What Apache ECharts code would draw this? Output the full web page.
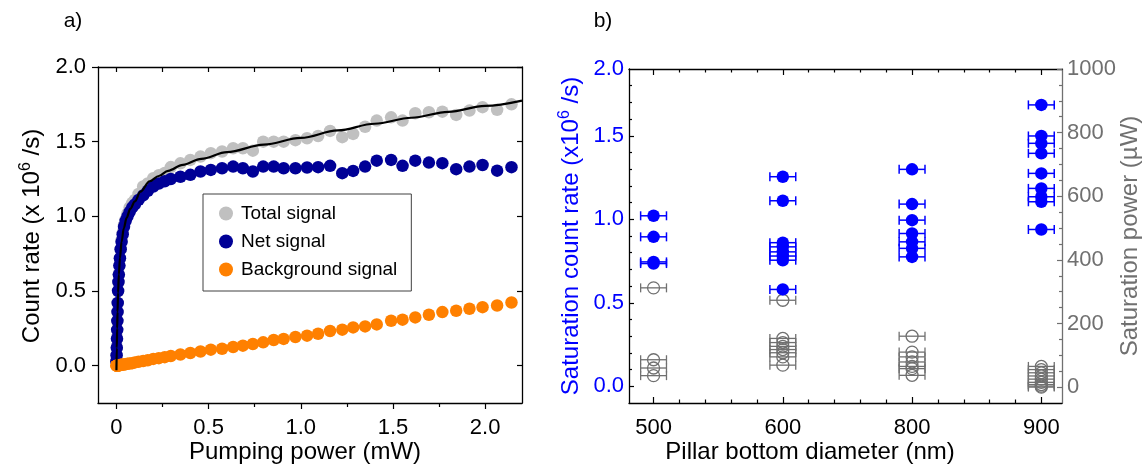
<!DOCTYPE html>
<html><head><meta charset="utf-8">
<script src="https://cdn.jsdelivr.net/npm/echarts@6/dist/echarts.min.js"></script>
<style>html,body{margin:0;padding:0;background:#fff}#c{width:1147px;height:464px}</style>
</head><body><div id="c"></div>
<script>
// ---------- Panel a) data ----------
const power = [0, 0.001, 0.002, 0.003, 0.004, 0.005, 0.006, 0.007, 0.009, 0.011, 0.013, 0.016, 0.019, 0.023, 0.028, 0.034, 0.041, 0.05, 0.06, 0.072, 0.086, 0.1, 0.12, 0.145, 0.17, 0.2, 0.23, 0.262, 0.295, 0.347, 0.401, 0.456, 0.512, 0.573, 0.633, 0.686, 0.74, 0.796, 0.853, 0.907, 0.971, 1.034, 1.094, 1.159, 1.225, 1.284, 1.349, 1.412, 1.49, 1.552, 1.621, 1.695, 1.768, 1.843, 1.915, 1.986, 2.065, 2.143];
const totalSignal = [0.03, 0.07, 0.12, 0.18, 0.24, 0.30, 0.36, 0.42, 0.50, 0.56, 0.61, 0.67, 0.72, 0.78, 0.84, 0.89, 0.94, 0.98, 1.02, 1.06, 1.09, 1.11, 1.15, 1.20, 1.22, 1.255, 1.275, 1.29, 1.33, 1.355, 1.378, 1.40, 1.423, 1.434, 1.456, 1.456, 1.44, 1.50, 1.50, 1.50, 1.51, 1.523, 1.538, 1.572, 1.53, 1.552, 1.60, 1.641, 1.663, 1.641, 1.69, 1.697, 1.701, 1.679, 1.708, 1.731, 1.713, 1.75];
const netSignal = [0.03, 0.07, 0.12, 0.18, 0.24, 0.30, 0.36, 0.42, 0.50, 0.56, 0.61, 0.67, 0.72, 0.78, 0.83, 0.88, 0.93, 0.97, 1.00, 1.03, 1.06, 1.08, 1.11, 1.14, 1.17, 1.20, 1.22, 1.235, 1.25, 1.265, 1.278, 1.30, 1.311, 1.322, 1.333, 1.322, 1.30, 1.333, 1.333, 1.322, 1.322, 1.327, 1.329, 1.338, 1.289, 1.304, 1.333, 1.373, 1.378, 1.338, 1.373, 1.36, 1.356, 1.316, 1.333, 1.344, 1.306, 1.329];
const backgroundSignal = [0, 0, 0, 0, 0, 0, 0, 0, 0.002, 0.002, 0.003, 0.003, 0.004, 0.005, 0.006, 0.007, 0.008, 0.01, 0.012, 0.014, 0.017, 0.022, 0.026, 0.031, 0.036, 0.045, 0.05, 0.057, 0.065, 0.075, 0.085, 0.095, 0.107, 0.113, 0.125, 0.134, 0.145, 0.156, 0.172, 0.179, 0.192, 0.201, 0.214, 0.232, 0.241, 0.256, 0.263, 0.276, 0.301, 0.308, 0.323, 0.341, 0.359, 0.368, 0.381, 0.392, 0.403, 0.423];
const fitPower = [0, 0.002, 0.004, 0.006, 0.009, 0.013, 0.019, 0.028, 0.04, 0.055, 0.075, 0.1, 0.13, 0.18, 0.23, 0.28, 0.36, 0.46, 0.6, 0.8, 1.0, 1.2, 1.4, 1.6, 1.8, 2.0, 2.2];
const fitCount = [-0.03, 0.12, 0.25, 0.36, 0.49, 0.61, 0.72, 0.83, 0.92, 0.99, 1.05, 1.10, 1.165, 1.235, 1.27, 1.305, 1.345, 1.385, 1.43, 1.48, 1.525, 1.575, 1.62, 1.66, 1.70, 1.74, 1.775];
const xTicksA = [0, 0.5, 1.0, 1.5, 2.0];
const yTicksA = [0, 0.5, 1.0, 1.5, 2.0];

// ---------- Panel b) data ----------
const diameters = ['500', '600', '800', '900'];
const rate500 = [1.021, 0.895, 0.745, 0.735];
const rate600 = [1.255, 1.111, 0.86, 0.835, 0.805, 0.78, 0.755, 0.58];
const rate800 = [1.299, 1.091, 0.995, 0.915, 0.865, 0.826, 0.775];
const rate900 = [1.685, 1.499, 1.455, 1.395, 1.275, 1.185, 1.135, 1.105, 0.939];
const psat500 = [312, 86, 60, 36];
const psat600 = [273, 153, 140, 128, 118, 108, 95, 69];
const psat800 = [160, 110, 95, 79, 65, 58, 37];
const psat900 = [65, 55, 45, 35, 25, 15, 8, 3, 0];
const diamErr = [0.1, 0.1, 0.1, 0.1]; // half width, in units of category spacing
const yTicksBLeft = [0, 0.5, 1.0, 1.5, 1.9];
const yTicksBRight = [0, 200, 400, 600, 800, 1000];

const FONT = 'Liberation Sans, Arial, Helvetica, sans-serif';
const BLUE = '#0000ff';
const GRAY = '#707070';
const TICKFS = 22;
const TITLEFS = 24;

function range(a, b, s) { const r = []; for (let v = a; v <= b + 1e-9; v += s) r.push(Math.round(v * 1000) / 1000); return r; }

const rateSets = [rate500, rate600, rate800, rate900];
const psatSets = [psat500, psat600, psat800, psat900];
const rateData = [], psatData = [];
rateSets.forEach((arr, i) => arr.forEach(v => rateData.push([i, v, diamErr[i]])));
psatSets.forEach((arr, i) => arr.forEach(v => psatData.push([i, v, diamErr[i]])));

function errBar(color, lw) {
  return function (params, api) {
    const x = api.value(0), y = api.value(1), e = api.value(2);
    const p0 = api.coord([x - e, y]), p1 = api.coord([x + e, y]);
    const c = 4.5;
    const st = { stroke: color, lineWidth: lw };
    return { type: 'group', children: [
      { type: 'line', shape: { x1: p0[0], y1: p0[1], x2: p1[0], y2: p1[1] }, style: st },
      { type: 'line', shape: { x1: p0[0], y1: p0[1] - c, x2: p0[0], y2: p0[1] + c }, style: st },
      { type: 'line', shape: { x1: p1[0], y1: p1[1] - c, x2: p1[0], y2: p1[1] + c }, style: st }
    ]};
  };
}

const noLabel = { show: false };
const noSplit = { show: false };
const noLine = { show: false, onZero: false };
const blackLine = { show: true, onZero: false, lineStyle: { color: '#000', width: 1.3 } };
const minorB = range(0, 3, 0.2).filter(v => Math.abs(v - Math.round(v)) > 1e-6);

const option = {
  animation: false,
  backgroundColor: '#fff',
  textStyle: { fontFamily: FONT },
  grid: [
    { left: 98, top: 67, width: 424, height: 336 },
    { left: 629, top: 69, width: 433, height: 334 }
  ],
  legend: {
    data: ['Total signal', 'Net signal', 'Background signal'],
    orient: 'vertical', left: 203, top: 194,
    padding: [10, 14, 12, 16], itemGap: 9, itemWidth: 14, itemHeight: 14,
    icon: 'circle', selectedMode: false,
    backgroundColor: '#fff', borderColor: '#404040', borderWidth: 1, borderRadius: 0,
    textStyle: { fontSize: 19, color: '#000', fontFamily: FONT, padding: [0, 0, 0, 3] }
  },
  xAxis: [
    { // 0: panel a bottom
      type: 'value', gridIndex: 0, min: -0.1, max: 2.2, position: 'bottom',
      axisLine: blackLine,
      axisTick: { show: true, inside: false, length: 6, customValues: xTicksA, lineStyle: { color: '#000', width: 1.2 } },
      axisLabel: { show: true, customValues: xTicksA, margin: 14, fontSize: TICKFS, color: '#000', fontFamily: FONT,
        formatter: v => (Math.abs(v) < 1e-9 ? '0' : v.toFixed(1)) },
      splitLine: noSplit
    },
    { // 1: panel a bottom minor ticks
      type: 'value', gridIndex: 0, min: -0.1, max: 2.2, position: 'bottom',
      axisLine: noLine,
      axisTick: { show: true, inside: false, length: 4, customValues: [0.25, 0.75, 1.25, 1.75], lineStyle: { color: '#000', width: 1.2 } },
      axisLabel: noLabel, splitLine: noSplit
    },
    { // 2: panel a top
      type: 'value', gridIndex: 0, min: -0.1, max: 2.2, position: 'top',
      axisLine: blackLine,
      axisTick: { show: true, inside: true, length: 5, customValues: range(0, 2, 0.25), lineStyle: { color: '#000', width: 1.2 } },
      axisLabel: noLabel, splitLine: noSplit
    },
    { // 3: panel b bottom
      type: 'value', gridIndex: 1, min: -0.19, max: 3.16, position: 'bottom',
      axisLine: blackLine,
      axisTick: { show: true, inside: true, length: 6, customValues: [0, 1, 2, 3], lineStyle: { color: '#000', width: 1.2 } },
      axisLabel: { show: true, customValues: [0, 1, 2, 3], margin: 14, fontSize: TICKFS, color: '#000', fontFamily: FONT,
        formatter: v => diameters[Math.round(v)] },
      splitLine: noSplit
    },
    { // 4: panel b bottom minor
      type: 'value', gridIndex: 1, min: -0.19, max: 3.16, position: 'bottom',
      axisLine: noLine,
      axisTick: { show: true, inside: true, length: 3.5, customValues: minorB, lineStyle: { color: '#000', width: 1.2 } },
      axisLabel: noLabel, splitLine: noSplit
    },
    { // 5: panel b top
      type: 'value', gridIndex: 1, min: -0.19, max: 3.16, position: 'top',
      axisLine: blackLine,
      axisTick: { show: true, inside: true, length: 6, customValues: [0, 1, 2, 3], lineStyle: { color: '#000', width: 1.2 } },
      axisLabel: noLabel, splitLine: noSplit
    },
    { // 6: panel b top minor
      type: 'value', gridIndex: 1, min: -0.19, max: 3.16, position: 'top',
      axisLine: noLine,
      axisTick: { show: true, inside: true, length: 3.5, customValues: minorB, lineStyle: { color: '#000', width: 1.2 } },
      axisLabel: noLabel, splitLine: noSplit
    }
  ],
  yAxis: [
    { // 0: panel a left
      type: 'value', gridIndex: 0, min: -0.25, max: 2.0, position: 'left',
      axisLine: blackLine,
      axisTick: { show: true, inside: false, length: 6, customValues: yTicksA, lineStyle: { color: '#000', width: 1.2 } },
      axisLabel: { show: true, customValues: yTicksA, margin: 12, fontSize: TICKFS, color: '#000', fontFamily: FONT, formatter: v => v.toFixed(1) },
      splitLine: noSplit
    },
    { // 1: panel a right
      type: 'value', gridIndex: 0, min: -0.25, max: 2.0, position: 'right',
      axisLine: blackLine,
      axisTick: { show: true, inside: true, length: 5, customValues: yTicksA, lineStyle: { color: '#000', width: 1.2 } },
      axisLabel: noLabel, splitLine: noSplit
    },
    { // 2: panel b left (blue labels)
      type: 'value', gridIndex: 1, min: -0.1, max: 1.9, position: 'left',
      axisLine: blackLine,
      axisTick: { show: true, inside: true, length: 5, customValues: [0, 0.5, 1.0, 1.5], lineStyle: { color: '#000', width: 1.2 } },
      axisLabel: { show: true, customValues: yTicksBLeft, margin: 5, fontSize: TICKFS, color: BLUE, fontFamily: FONT,
        formatter: v => (v > 1.85 ? '2.0' : v.toFixed(1)) },
      splitLine: noSplit
    },
    { // 3: panel b left minor
      type: 'value', gridIndex: 1, min: -0.1, max: 1.9, position: 'left',
      axisLine: noLine,
      axisTick: { show: true, inside: true, length: 3, customValues: range(0.1, 1.8, 0.1).filter(v => Math.abs(v * 2 - Math.round(v * 2)) > 1e-6), lineStyle: { color: '#000', width: 1.2 } },
      axisLabel: noLabel, splitLine: noSplit
    },
    { // 4: panel b right (gray)
      type: 'value', gridIndex: 1, min: -50, max: 1000, position: 'right',
      axisLine: { show: true, onZero: false, lineStyle: { color: GRAY, width: 1.3 } },
      axisTick: { show: true, inside: true, length: 5, customValues: yTicksBRight, lineStyle: { color: GRAY, width: 1.2 } },
      axisLabel: { show: true, customValues: yTicksBRight, margin: 5, fontSize: TICKFS, color: GRAY, fontFamily: FONT, formatter: v => String(Math.round(v)) },
      splitLine: noSplit
    },
    { // 5: panel b right minor
      type: 'value', gridIndex: 1, min: -50, max: 1000, position: 'right',
      axisLine: noLine,
      axisTick: { show: true, inside: true, length: 3, customValues: range(50, 950, 50).filter(v => v % 200 !== 0), lineStyle: { color: GRAY, width: 1.2 } },
      axisLabel: noLabel, splitLine: noSplit
    }
  ],
  series: [
    { type: 'scatter', name: 'Total signal', xAxisIndex: 0, yAxisIndex: 0, symbolSize: 12.5,
      itemStyle: { color: '#c0c0c0', opacity: 1 }, data: power.map((p, i) => [p, totalSignal[i]]), z: 2 },
    { type: 'scatter', name: 'Net signal', xAxisIndex: 0, yAxisIndex: 0, symbolSize: 12.5,
      itemStyle: { color: '#000096', opacity: 1 }, data: power.map((p, i) => [p, netSignal[i]]), z: 3 },
    { type: 'scatter', name: 'Background signal', xAxisIndex: 0, yAxisIndex: 0, symbolSize: 12.5,
      itemStyle: { color: '#ff8000', opacity: 1 }, data: power.map((p, i) => [p, backgroundSignal[i]]), z: 4 },
    { type: 'line', name: 'fit', xAxisIndex: 0, yAxisIndex: 0, showSymbol: false, symbol: 'none',
      smooth: 0.35, smoothMonotone: 'x', lineStyle: { color: '#000', width: 2.2 }, silent: true,
      data: fitPower.map((p, i) => [p, fitCount[i]]), z: 5 },
    { type: 'custom', name: 'psatErr', xAxisIndex: 3, yAxisIndex: 4, renderItem: errBar(GRAY, 1.3),
      data: psatData, z: 2, silent: true },
    { type: 'scatter', name: 'psat', xAxisIndex: 3, yAxisIndex: 4, symbolSize: 12,
      itemStyle: { color: 'rgba(0,0,0,0)', borderColor: GRAY, borderWidth: 1.3, opacity: 1 },
      data: psatData.map(d => [d[0], d[1]]), z: 3 },
    { type: 'custom', name: 'rateErr', xAxisIndex: 3, yAxisIndex: 2, renderItem: errBar(BLUE, 1.5),
      data: rateData, z: 4, silent: true },
    { type: 'scatter', name: 'rate', xAxisIndex: 3, yAxisIndex: 2, symbolSize: 12.5,
      itemStyle: { color: BLUE, opacity: 1 }, data: rateData.map(d => [d[0], d[1]]), z: 5 }
  ],
  graphic: [
    { type: 'text', x: 73, y: 21, style: { text: 'a)', fontSize: 21, fontFamily: FONT, fill: '#000', align: 'center', verticalAlign: 'middle' } },
    { type: 'text', x: 603, y: 21, style: { text: 'b)', fontSize: 21, fontFamily: FONT, fill: '#000', align: 'center', verticalAlign: 'middle' } },
    { type: 'text', x: 32, y: 236, rotation: Math.PI / 2,
      style: { text: '{n|Count rate (x 10}{s|6}{n| /s)}', align: 'center', verticalAlign: 'middle', fill: '#000',
        rich: { n: { fontSize: TITLEFS, fontFamily: FONT, lineHeight: 28, fill: '#000' }, s: { fontSize: 16, fontFamily: FONT, lineHeight: 14, verticalAlign: 'top', fill: '#000' } } } },
    { type: 'text', x: 305, y: 452, style: { text: 'Pumping power (mW)', fontSize: TITLEFS, fontFamily: FONT, fill: '#000', align: 'center', verticalAlign: 'middle' } },
    { type: 'text', x: 571, y: 236, rotation: Math.PI / 2,
      style: { text: '{n|Saturation count rate (x10}{s|6}{n| /s)}', align: 'center', verticalAlign: 'middle', fill: BLUE,
        rich: { n: { fontSize: TITLEFS, fontFamily: FONT, lineHeight: 28, fill: BLUE }, s: { fontSize: 16, fontFamily: FONT, lineHeight: 14, verticalAlign: 'top', fill: BLUE } } } },
    { type: 'text', x: 810, y: 452, style: { text: 'Pillar bottom diameter (nm)', fontSize: TITLEFS, fontFamily: FONT, fill: '#000', align: 'center', verticalAlign: 'middle' } },
    { type: 'text', x: 1130, y: 236, rotation: Math.PI / 2,
      style: { text: 'Saturation power (\u00b5W)', fontSize: TITLEFS, fontFamily: FONT, fill: GRAY, align: 'center', verticalAlign: 'middle' } }
  ]
};

const chart = echarts.init(document.getElementById('c'), null, { renderer: 'canvas' });
chart.setOption(option);
</script></body></html>
